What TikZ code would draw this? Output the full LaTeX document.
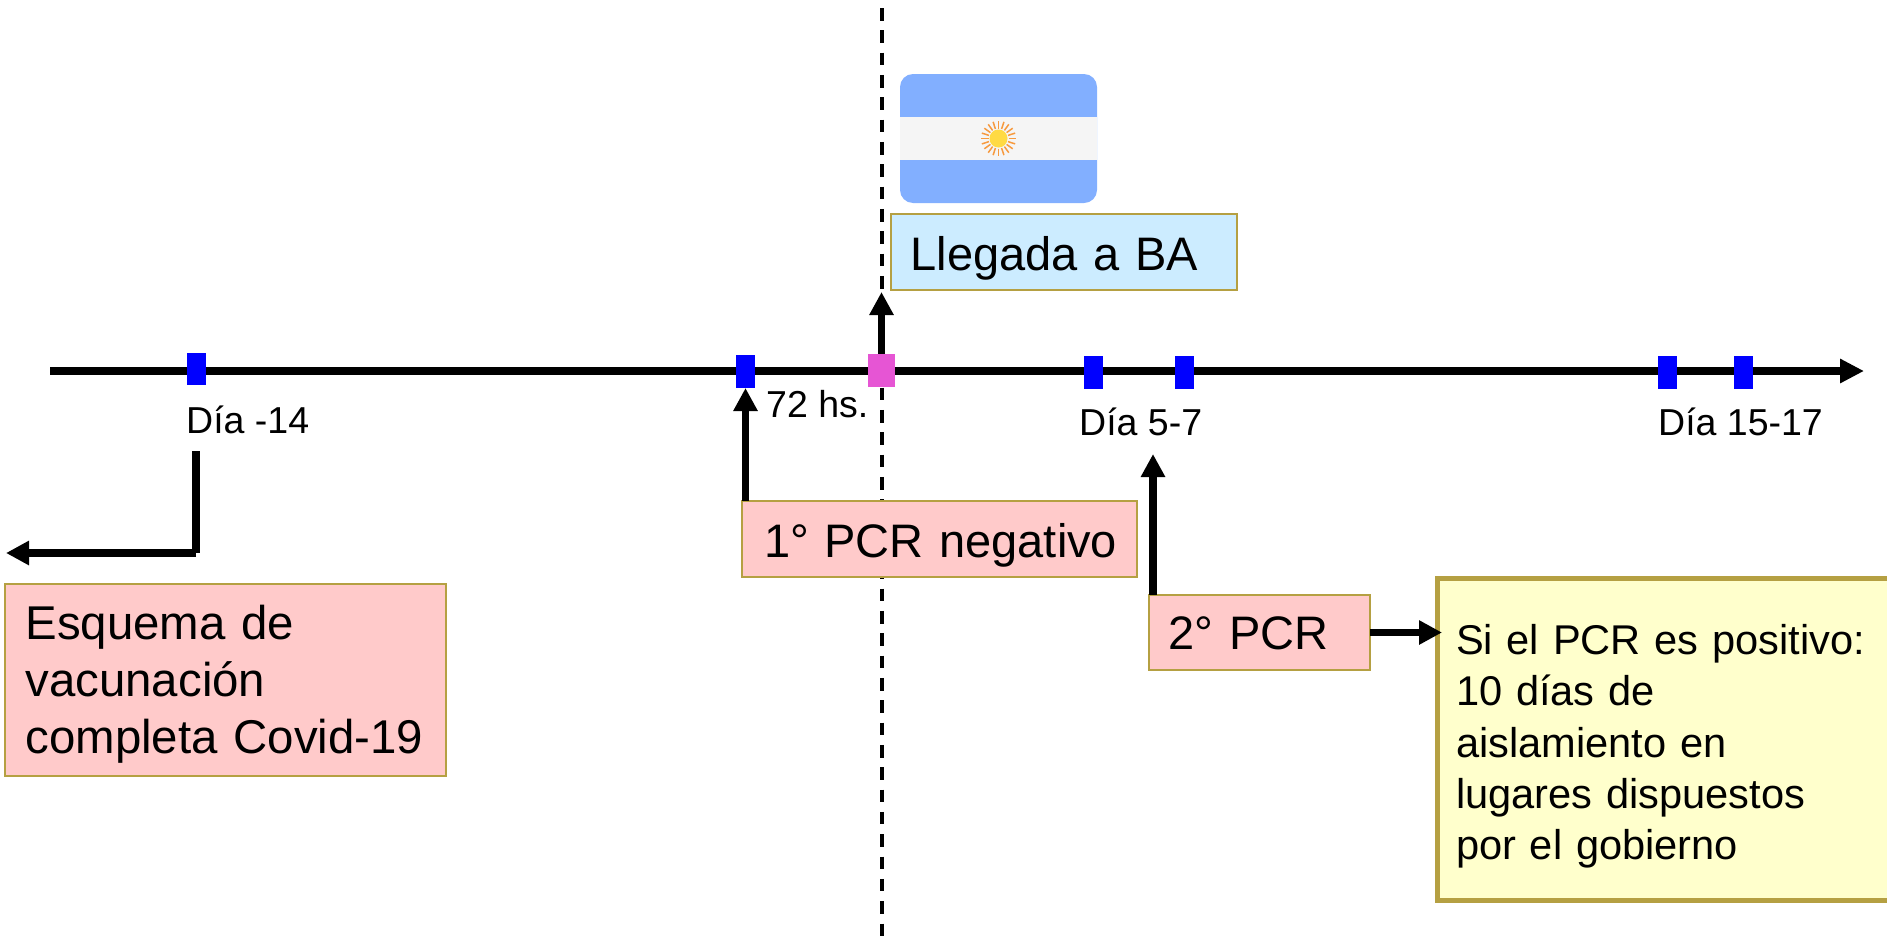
\documentclass[tikz,border=0pt]{standalone}
\usepackage{fontspec}
\setmainfont{Liberation Sans}
\usetikzlibrary{positioning, arrows.meta}
\definecolor{boxedge}{HTML}{B5A042}
\definecolor{pinkfill}{HTML}{FFCACA}
\definecolor{bluefill}{HTML}{CCECFF}
\definecolor{yellowfill}{HTML}{FFFFCC}
\definecolor{arrivalfill}{HTML}{E655D4}
\definecolor{flagblue}{HTML}{82AFFF}
\definecolor{flagwhite}{HTML}{F5F5F5}
\definecolor{sunfill}{HTML}{FFDA44}
\definecolor{sunray}{HTML}{F79A3F}

\begin{document}
\begin{tikzpicture}[
    x=1pt, y=-1pt,
    ticknode/.style={rectangle, fill=blue, minimum width=19pt, minimum height=33pt, inner sep=0pt, outer sep=0pt},
    daylabel/.style={anchor=base west, inner sep=0pt, font=\fontsize{37.5}{42}\selectfont},
    textbox/.style={rectangle, draw=boxedge, line width=2pt, inner sep=0pt, outer sep=0pt, align=left, anchor=north west, font=\fontsize{47}{57}\selectfont},
    thickline/.style={line width=7.5pt},
    thickarrow/.style={line width=7.5pt, -{Triangle[length=23pt, width=23pt]}},
]
\useasboundingbox (0,0) rectangle (1887,940);
\coordinate (dashtop) at (882,8);
\coordinate (dashbottom) at (882,938);
\draw[line width=3.2pt, dash pattern=on 12.6pt off 9.73pt] (dashtop) -- (dashbottom);

% timeline
\coordinate (axisstart) at (50,371);
\coordinate (axisend) at (1864,371);
\draw[line width=8pt, -{Triangle[length=24pt, width=23pt]}] (axisstart) -- (axisend);
\node[ticknode, minimum height=32pt](tick1) at (196.5,369){};
\node[ticknode](tick2) at (745.5,371.5){};
\node[rectangle, fill=arrivalfill, minimum width=27pt, minimum height=33pt, inner sep=0pt, outer sep=0pt](arrival) at (881.5,370){};
\node[ticknode](tick3) at (1093.5,372.5){};
\node[ticknode](tick4)[right = 71.5pt of tick3]{};
\node[ticknode](tick5) at (1667.5,372.5){};
\node[ticknode](tick6)[right = 57pt of tick5]{};

\node[daylabel](daya) at (186,433){Día -14};
\node[daylabel](hours) at (766,417){72 hs.};
\node[daylabel](dayb) at (1079,435){Día 5-7};
\node[daylabel](dayc) at (1658,435){Día 15-17};

% flag
\node[rectangle, rounded corners=13pt, fill=flagblue, minimum width=197pt, minimum height=129pt, inner sep=0pt](flag) at (998.5,138.5){};
\node[rectangle, fill=flagwhite, minimum width=197pt, minimum height=43pt, inner sep=0pt](band) at (flag.center){};
\node[circle, fill=sunfill, minimum size=18pt, inner sep=0pt](sun) at (flag.center){};
\foreach \a in {0,18,...,342}
    \draw[sunray, line width=1.5pt] (sun.center) ++(\a:10pt) -- ++(\a:7.5pt);

% boxes
\node[textbox, fill=bluefill, minimum width=346pt, minimum height=76pt, text width=307pt, text height=44pt, text depth=8pt](llegada) at (891,214){Llegada a BA};
\node[textbox, fill=pinkfill, minimum width=395pt, minimum height=76pt, text width=351pt, text height=44pt, text depth=8pt](pcra) at (742,501){\mbox{1° PCR negativo}};
\node[textbox, fill=pinkfill, minimum width=221pt, minimum height=75pt, text width=182pt, text height=41pt, text depth=8pt](pcrb) at (1149,595){2° PCR};
\node[textbox, fill=pinkfill, minimum width=441pt, minimum height=192pt, text width=400pt, font=\fontsize{47.4}{57}\selectfont](esquema) at (5,584){\rule{0pt}{42pt}Esquema de\\vacunación\\completa Covid-19};
\node[textbox, fill=yellowfill, line width=5pt, minimum width=462pt, minimum height=322pt, text width=425pt, font=\fontsize{41.6}{51.2}\selectfont](aviso) at (1437.5,578.5){\rule{0pt}{44pt}Si el PCR es positivo:\\10 días de\\aislamiento en\\lugares dispuestos\\por el gobierno};

% arrows
\coordinate (arrivaltip) at (881.5,292);
\draw[thickarrow] (arrival.north) -- (arrivaltip);
\draw[thickarrow] (tick2.south |- pcra.north) -- (tick2.south);
\coordinate (dayatip) at (1153,454);
\draw[thickarrow] (dayatip |- pcrb.north) -- (dayatip);
\coordinate (avisotip) at (1442,632.5);
\draw[thickarrow] (pcrb.east) -- (avisotip);
\coordinate (bendtop) at (196,451);
\coordinate (bend) at (196,553);
\coordinate (bendtip) at (6,553);
\draw[thickline] (bendtop) -- (bend);
\draw[thickarrow] (bend) -- (bendtip);
\end{tikzpicture}
\end{document}
